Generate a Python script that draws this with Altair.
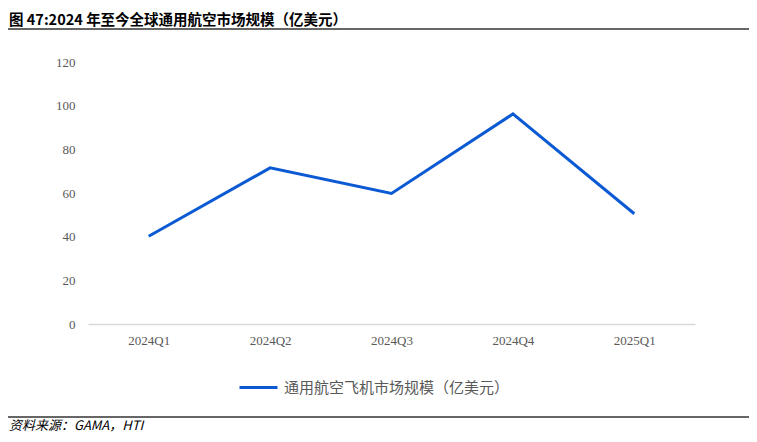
import altair as alt
import pandas as pd

# ---- data ----
quarters = ["2024Q1", "2024Q2", "2024Q3", "2024Q4", "2025Q1"]
values = [40.2, 71.5, 59.8, 96.2, 50.5]
series_name = "通用航空飞机市场规模（亿美元）"
title_text = "图 47:2024 年至今全球通用航空市场规模（亿美元）"
source_text = "资料来源：GAMA，HTI"
y_ticks = [0, 20, 40, 60, 80, 100, 120]

LINE_COLOR = "#0b5ad3"
AXIS_TEXT = "#595959"

df = pd.DataFrame({"quarter": quarters, "value": values, "series": [series_name] * len(quarters)})

line = alt.Chart(df).mark_line(strokeWidth=3, color=LINE_COLOR).encode(
    x=alt.X(
        "quarter:N",
        sort=quarters,
        scale=alt.Scale(type="point", padding=0.5),
        axis=alt.Axis(
            title=None,
            labelAngle=0,
            ticks=False,
            domain=True,
            domainColor="#d9d9d9",
            domainWidth=1.5,
            labelFont="Liberation Serif",
            labelFontSize=13,
            labelColor=AXIS_TEXT,
            labelPadding=10,
            grid=False,
        ),
    ),
    y=alt.Y(
        "value:Q",
        scale=alt.Scale(domain=[0, 120], nice=False),
        axis=alt.Axis(
            title=None,
            values=y_ticks,
            ticks=False,
            domain=False,
            grid=False,
            labelFont="Liberation Serif",
            labelFontSize=13,
            labelColor=AXIS_TEXT,
            labelPadding=13,
        ),
    ),
    color=alt.Color(
        "series:N",
        scale=alt.Scale(domain=[series_name], range=[LINE_COLOR]),
        legend=alt.Legend(
            title=None,
            orient="none",
            legendX=150,
            legendY=305,
            symbolType="stroke",
            symbolSize=1444,
            symbolStrokeWidth=3,
            labelFont="Noto Sans CJK SC",
            labelFontSize=15,
            labelColor=AXIS_TEXT,
            labelOffset=5,
            labelLimit=500,
        ),
    ),
)

title = alt.Chart(pd.DataFrame({"t": [title_text]})).mark_text(
    align="left", baseline="alphabetic", font="Noto Sans CJK SC", fontSize=14.5, fontWeight="bold", color="#000000"
).encode(text="t:N", x=alt.value(-79), y=alt.value(-37))

top_rule = alt.Chart(pd.DataFrame({"a": [0]})).mark_rule(color="#333333", strokeWidth=1.5).encode(
    x=alt.value(-80), x2=alt.value(662), y=alt.value(-33)
)

bottom_rule = alt.Chart(pd.DataFrame({"a": [0]})).mark_rule(color="#333333", strokeWidth=1.5).encode(
    x=alt.value(-80), x2=alt.value(662), y=alt.value(355)
)

source = alt.Chart(pd.DataFrame({"t": [source_text]})).mark_text(
    align="left", baseline="middle", font="Noto Sans CJK SC", fontSize=13, fontStyle="italic", color="#000000"
).encode(text="t:N", x=alt.value(-79), y=alt.value(364))

chart = alt.layer(line, title, top_rule, bottom_rule, source).properties(
    width=607,
    height=262,
    autosize=alt.AutoSizeParams(type="none"),
    padding={"left": 80, "top": 54, "right": 54, "bottom": 110},
).configure_view(stroke=None)

chart.save("out.html", embed_options={"renderer": "svg", "actions": False})
